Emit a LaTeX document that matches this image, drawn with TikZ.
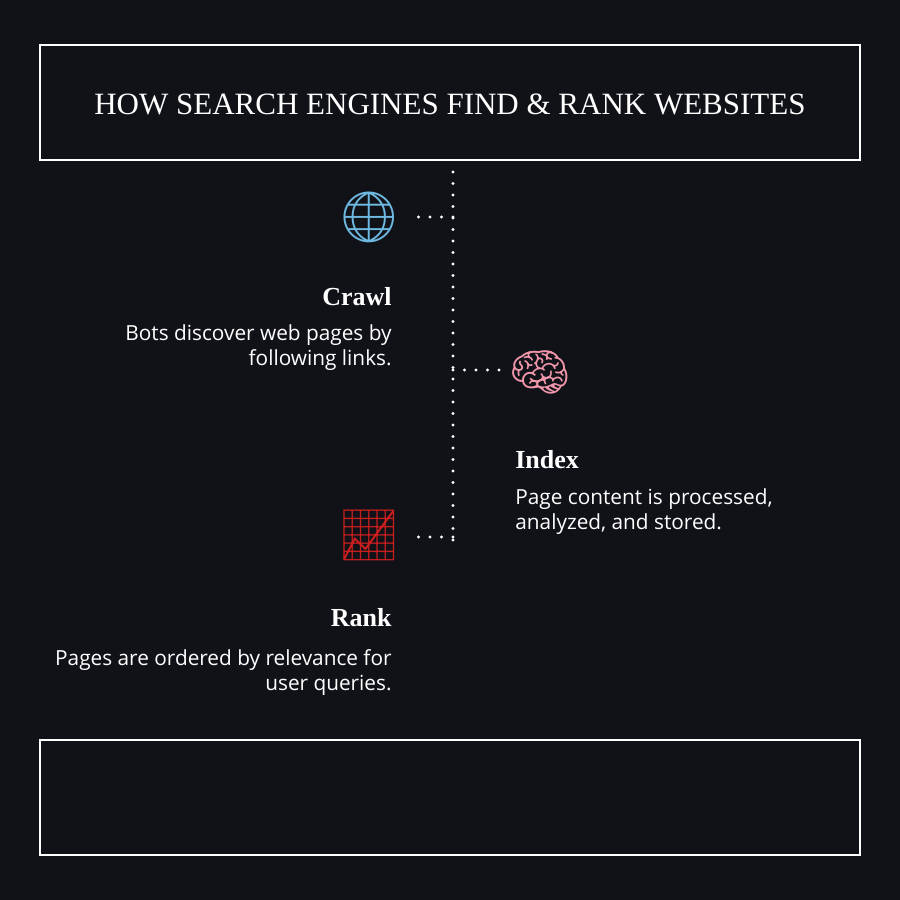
\documentclass[tikz,border=0pt]{standalone}
\usepackage{fontspec}
\setmainfont{Liberation Serif}
\setsansfont{Open Sans}
\newfontfamily\emojifont{Noto Emoji}
\definecolor{bgdark}{RGB}{17,18,24}
\definecolor{globeblue}{RGB}{110,185,225}
\definecolor{brainpink}{RGB}{240,150,170}
\definecolor{chartred}{RGB}{200,30,30}
\tikzset{
  every picture/.style={line width=0.75pt},
  framebox/.style={draw=white,line width=1.5pt},
  dotline/.style={white,line width=3.4pt,line cap=round,dash pattern=on 0pt off 11.5pt},
  steptitle/.style={text=white,font=\rmfamily\fontsize{26}{28}\selectfont\bfseries,inner sep=0pt},
  stepbody/.style={text=white,font=\sffamily\fontsize{20.8}{25}\selectfont,inner sep=0pt},
  iconnode/.style={font=\emojifont\fontsize{50}{50}\selectfont,inner sep=0pt}
}
\begin{document}
\begin{tikzpicture}[x=1pt,y=1pt,yscale=-1,xscale=1]
\fill[bgdark] (0,0) rectangle (900,900);
\useasboundingbox (0,0) rectangle (900,900);

% Title and footer frames
\draw[framebox] (40,45) rectangle (860,160);
\node[text=white,font=\rmfamily\fontsize{31}{34}\selectfont,inner sep=0pt] (title) at (450,104) {HOW SEARCH ENGINES FIND \& RANK WEBSITES};
\draw[framebox] (40,740) rectangle (860,855);

% Timeline
\coordinate (top) at (453,172);
\coordinate (bottom) at (453,540);
\draw[dotline] (top) -- (bottom);

% Crawl
\node[iconnode,text=globeblue] (crawlicon) at (369,217) {🌐};
\coordinate (crawlpt) at (453,217);
\draw[dotline] (crawlpt) -- (408,217);
\node[steptitle,anchor=east] (crawl) at (392,297) {Crawl};
\node[stepbody,anchor=north east,align=right] (crawltext) at (392,324) {Bots discover web pages by\\following links.};

% Index
\node[iconnode,text=brainpink] (indexicon) at (540,372) {🧠};
\coordinate (indexpt) at (453,370);
\draw[dotline] (indexpt) -- (500,370);
\node[steptitle,anchor=west] (index) at (515,460) {Index};
\node[stepbody,anchor=north west,align=left] (indextext) at (515,488) {Page content is processed,\\analyzed, and stored.};

% Rank
\node[iconnode,text=chartred] (rankicon) at (369,535) {📈};
\coordinate (rankpt) at (453,537);
\draw[dotline] (rankpt) -- (408,537);
\node[steptitle,anchor=east] (rank) at (392,618) {Rank};
\node[stepbody,anchor=north east,align=right] (ranktext) at (392,649) {Pages are ordered by relevance for\\user queries.};
\end{tikzpicture}
\end{document}
